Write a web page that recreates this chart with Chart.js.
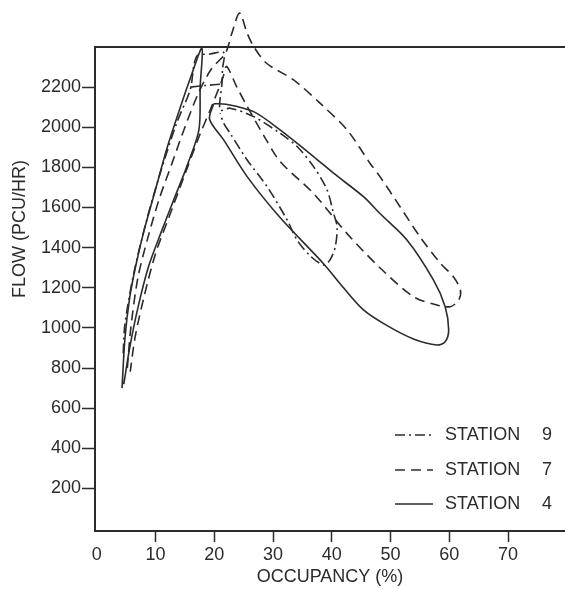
<!DOCTYPE html>
<html>
<head>
<meta charset="utf-8">
<script src="https://cdn.jsdelivr.net/npm/chart.js@4"></script>
<style>
  body { margin: 0; background: #fff; }
  canvas { display: block; }
</style>
</head>
<body>
<canvas id="flowChart" width="565" height="589"></canvas>
<script>
// tick labels
const xTicks = [0, 10, 20, 30, 40, 50, 60, 70];
const yTicks = [200, 400, 600, 800, 1000, 1200, 1400, 1600, 1800, 2000, 2200];

// station 9 (dash-dot), null = break in the line
const station9Occ = [4.5, 4.8, 6.3, 8.5, 10.8, 13.6, 15.9, 17.0, 19.3, 21.6, 21.4, 21.3, 21.0,
  22.7, 26.7, 31.2, 34.1, 36.9, 39.2, 40.3, 40.9, 40.6, 39.7, 38.6, 36.3, 34.1, 32.4, 29.0, 25.6, 22.7, 21.6, 21.0,
  null, 15.9, 18.5, 21.3];
const station9Flow = [873, 1020, 1272, 1538, 1771, 2021, 2187, 2353, 2365, 2372, 2290, 2215, 2086,
  2095, 2053, 1970, 1904, 1804, 1688, 1571, 1505, 1405, 1339, 1314, 1360, 1438, 1538, 1704, 1837, 1970, 2020, 2070,
  null, 2200, 2208, 2215];

// station 7 (dashed)
const station7Occ = [5.2, 5.8, 7.0, 8.7, 10.6, 12.8, 15.0, 17.3, 19.5, 21.9, 23.0, 24.3,
  25.6, 26.7, 28.9, 33.5, 38.0, 42.6, 46.5, 48.2, 51.6, 55.0, 58.5, 60.7, 61.9, 61.6, 60.2,
  57.9, 53.9, 48.2, 42.6, 36.9, 31.2, 28.4, 25.6, 23.8, 22.1,
  21.5, 19.5, 17.5, 14.8, 12.4, 10.0, 8.0, 6.5, 5.7];
const station7Flow = [800, 1000, 1250, 1450, 1640, 1820, 2000, 2170, 2290, 2369, 2469, 2569,
  2469, 2403, 2319, 2236, 2120, 1987, 1821, 1754, 1605, 1455, 1322, 1255, 1189, 1139, 1106,
  1114, 1156, 1300, 1470, 1670, 1830, 1960, 2104, 2203, 2303,
  2250, 2100, 1960, 1750, 1560, 1370, 1150, 950, 782];

// station 4 (solid)
const station4Occ = [4.3, 4.8, 5.6, 6.6, 8.0, 10.0, 12.0, 14.0, 16.0, 17.9, 17.6, 17.4,
  15.4, 13.1, 11.0, 8.8, 7.0, 5.6, 4.6,
  null, 19.9, 22.0, 26.7, 31.2, 36.9, 40.3, 45.4, 48.2, 52.8, 57.3, 59.3, 59.9, 59.3,
  57.9, 53.9, 49.5, 45.4, 42.0, 38.6, 31.2, 25.6, 21.6, 19.2, 19.9];
const station4Flow = [700, 950, 1150, 1305, 1480, 1690, 1900, 2080, 2250, 2394, 2200, 1990,
  1810, 1638, 1480, 1305, 1100, 900, 720,
  null, 2117, 2115, 2078, 1987, 1854, 1771, 1654, 1570, 1438, 1239, 1106, 990, 931,
  915, 945, 1010, 1090, 1200, 1320, 1550, 1754, 1937, 2040, 2117];

const stationLabels = ["STATION 9", "STATION 7", "STATION 4"];

function toPoints(occ, flow) {
  return occ.map((x, i) => ({ x: x, y: flow[i] }));
}

const ink = "#2b2b2b";
Chart.defaults.font.family = '"Liberation Sans", Arial, Helvetica, sans-serif';
Chart.defaults.font.size = 18;
Chart.defaults.color = ink;

// legend drawn inside the plot, lower right
const stationLegend = {
  id: "stationLegend",
  afterDraw(chart) {
    const ctx = chart.ctx;
    const rows = [435, 470, 504];
    ctx.save();
    ctx.font = '18px "Liberation Sans", Arial, sans-serif';
    ctx.fillStyle = ink;
    ctx.textBaseline = "middle";
    chart.data.datasets.forEach((ds, i) => {
      const y = rows[i];
      ctx.beginPath();
      ctx.strokeStyle = ds.borderColor;
      ctx.lineWidth = ds.borderWidth;
      ctx.setLineDash(ds.borderDash || []);
      ctx.moveTo(395, y);
      ctx.lineTo(433, y);
      ctx.stroke();
      const parts = ds.label.split(" ");
      ctx.textAlign = "left";
      ctx.fillText(parts[0], 445, y);
      ctx.fillText(parts[1], 542, y);
    });
    ctx.restore();
  }
};

// y axis title sits a bit above the middle in the original
const yTitle = {
  id: "yTitle",
  afterDraw(chart) {
    const ctx = chart.ctx;
    ctx.save();
    ctx.translate(20, 229);
    ctx.rotate(-Math.PI / 2);
    ctx.font = '18px "Liberation Sans", Arial, sans-serif';
    ctx.fillStyle = ink;
    ctx.textAlign = "center";
    ctx.textBaseline = "middle";
    ctx.fillText("FLOW (PCU/HR)", 0, 0);
    ctx.restore();
  }
};

const lineStyle = { borderColor: ink, borderWidth: 1.6, pointRadius: 0, tension: 0.3, clip: false, fill: false, spanGaps: false };

new Chart(document.getElementById("flowChart"), {
  type: "line",
  data: {
    datasets: [
      { label: stationLabels[0], data: toPoints(station9Occ, station9Flow), borderDash: [10, 4, 2, 4], ...lineStyle },
      { label: stationLabels[1], data: toPoints(station7Occ, station7Flow), borderDash: [10, 6], ...lineStyle },
      { label: stationLabels[2], data: toPoints(station4Occ, station4Flow), borderDash: [], ...lineStyle }
    ]
  },
  options: {
    responsive: false,
    animation: false,
    layout: { padding: { top: 47, left: 0, right: 0, bottom: 0 } },
    plugins: { legend: { display: false }, tooltip: { enabled: false } },
    scales: {
      x: {
        type: "linear",
        position: "bottom",
        min: -0.3,
        max: 79.7,
        afterBuildTicks: s => { s.ticks = xTicks.map(v => ({ value: v })); },
        afterFit: s => { s.height = 58; },
        ticks: { padding: 2, maxRotation: 0, autoSkip: false, callback: v => String(v) },
        grid: {
          drawOnChartArea: false,
          tickLength: 11,
          tickWidth: 1.5,
          tickColor: c => (c.tick && c.tick.value === 0 ? "rgba(0,0,0,0)" : ink)
        },
        border: { color: ink, width: 2 },
        title: { display: true, text: "OCCUPANCY (%)", padding: { top: 0, bottom: 1 } }
      },
      xTop: {
        type: "linear",
        position: "top",
        min: -0.3,
        max: 79.7,
        ticks: { display: false },
        grid: { display: false },
        border: { color: ink, width: 2 },
        afterFit: s => { s.height = 0; }
      },
      y: {
        type: "linear",
        min: -12,
        max: 2400,
        afterBuildTicks: s => { s.ticks = yTicks.map(v => ({ value: v })); },
        afterFit: s => { s.width = 95; },
        ticks: { padding: 1, autoSkip: false, callback: v => String(v) },
        grid: { drawOnChartArea: false, tickLength: 13, tickWidth: 1.5, tickColor: ink },
        border: { color: ink, width: 2 }
      }
    }
  },
  plugins: [stationLegend, yTitle]
});
</script>
</body>
</html>
